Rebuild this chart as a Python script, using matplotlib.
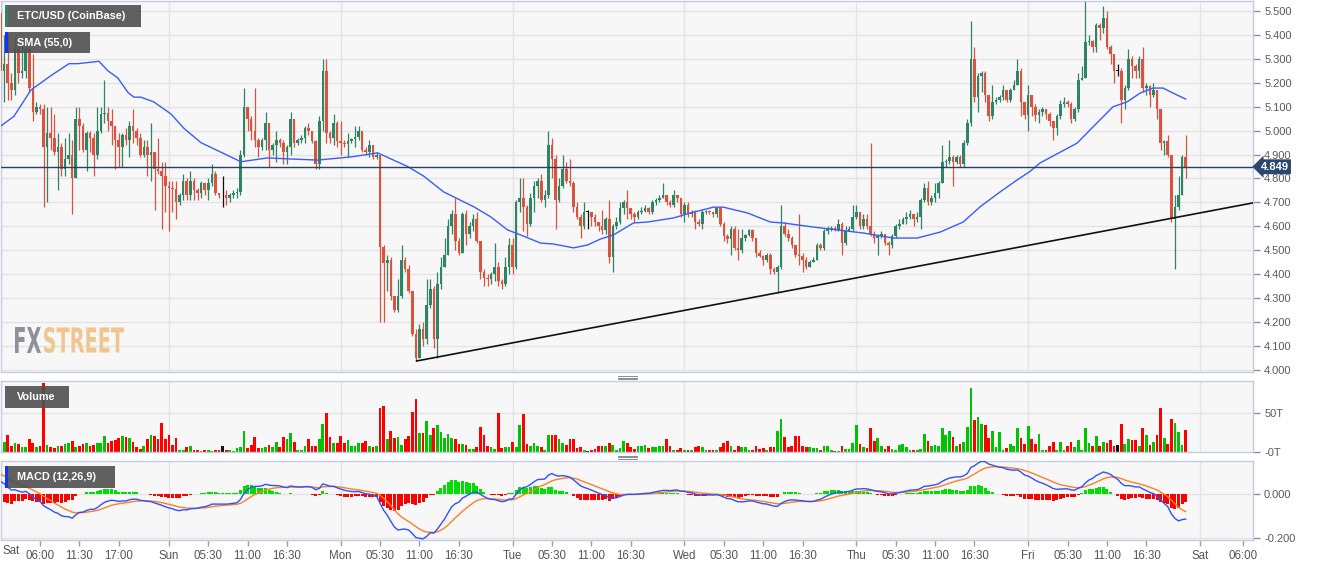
import numpy as np
import matplotlib
matplotlib.use("Agg")
import matplotlib.pyplot as plt
from matplotlib.patches import Rectangle, PathPatch
from matplotlib.lines import Line2D
from matplotlib.textpath import TextPath
from matplotlib.font_manager import FontProperties
from matplotlib.transforms import Affine2D, IdentityTransform, blended_transform_factory

plt.rcParams['font.family'] = ['Liberation Sans', 'DejaVu Sans']

# ETC/USD 30-minute candles, Sat 00:30 .. Fri 22:00 (hours from Sat 00:00)
first_open = 5.49
closes = [
    5.25, 5.28, 5.20, 5.17, 5.34, 5.24, 5.25, 5.34, 5.18, 5.08,
    5.10, 5.09, 4.93, 4.99, 4.97, 4.91, 4.93, 4.84, 4.88, 4.90,
    4.80, 5.05, 5.02, 4.92, 4.99, 4.97, 4.90, 5.00, 5.07, 5.075,
    5.04, 5.02, 4.96, 4.93, 4.98, 4.96, 5.02, 5.00, 4.97, 4.90,
    4.93, 4.90, 4.91, 4.84, 4.83, 4.81, 4.77, 4.76, 4.755, 4.70,
    4.73, 4.79, 4.73, 4.79, 4.75, 4.74, 4.78, 4.75, 4.78, 4.82,
    4.74, 4.73, 4.73, 4.72, 4.73, 4.74, 4.745, 4.90, 5.10, 5.05,
    5.00, 4.96, 4.93, 4.96, 5.03, 4.92, 4.94, 4.96, 4.95, 4.91,
    4.93, 5.05, 4.95, 4.96, 4.97, 5.01, 5.00, 4.955, 4.86, 5.04,
    5.25, 4.99, 4.97, 5.03, 4.955, 4.95, 4.945, 4.955, 4.965, 4.975,
    5.00, 4.92, 4.91, 4.94, 4.89, 4.90, 4.515, 4.445, 4.46, 4.31,
    4.25, 4.31, 4.46, 4.42, 4.33, 4.15, 4.05, 4.17, 4.13, 4.27,
    4.34, 4.13, 4.36, 4.43, 4.48, 4.60, 4.65, 4.54, 4.49, 4.65,
    4.57, 4.60, 4.63, 4.54, 4.41, 4.385, 4.38, 4.40, 4.43, 4.37,
    4.36, 4.43, 4.52, 4.43, 4.70, 4.72, 4.68, 4.61, 4.72, 4.77,
    4.79, 4.71, 4.73, 4.94, 4.88, 4.71, 4.77, 4.84, 4.79, 4.78,
    4.68, 4.64, 4.60, 4.66, 4.66, 4.64, 4.62, 4.60, 4.585, 4.63,
    4.47, 4.60, 4.62, 4.675, 4.70, 4.675, 4.65, 4.64, 4.66, 4.665,
    4.675, 4.66, 4.70, 4.71, 4.72, 4.73, 4.70, 4.69, 4.73, 4.72,
    4.65, 4.69, 4.65, 4.66, 4.62, 4.61, 4.66, 4.665, 4.66, 4.65,
    4.675, 4.61, 4.56, 4.545, 4.59, 4.51, 4.50, 4.55, 4.565, 4.585,
    4.55, 4.49, 4.475, 4.46, 4.48, 4.42, 4.41, 4.43, 4.60, 4.57,
    4.55, 4.52, 4.48, 4.475, 4.46, 4.43, 4.45, 4.46, 4.52, 4.51,
    4.58, 4.59, 4.595, 4.585, 4.61, 4.53, 4.58, 4.59, 4.64, 4.66,
    4.60, 4.63, 4.60, 4.57, 4.55, 4.56, 4.57, 4.53, 4.52, 4.56,
    4.60, 4.61, 4.63, 4.64, 4.65, 4.63, 4.64, 4.71, 4.76, 4.70,
    4.72, 4.74, 4.78, 4.87, 4.875, 4.89, 4.87, 4.89, 4.86, 4.95,
    5.03, 5.30, 5.14, 5.23, 5.24, 5.15, 5.06, 5.12, 5.13, 5.14,
    5.17, 5.13, 5.17, 5.19, 5.25, 5.12, 5.065, 5.15, 5.10, 5.065,
    5.08, 5.09, 5.07, 5.04, 5.01, 5.06, 5.11, 5.12, 5.11, 5.05,
    5.09, 5.21, 5.22, 5.37, 5.375, 5.35, 5.44, 5.43, 5.47, 5.35,
    5.32, 5.25, 5.25, 5.13, 5.18, 5.30, 5.27, 5.25, 5.30, 5.18,
    5.185, 5.15, 5.17, 5.09, 4.95, 4.955, 4.90, 4.63, 4.68, 4.73,
    4.89, 4.849,
]
highs = [
    5.55, 5.40, 5.41, 5.24, 5.39, 5.36, 5.37, 5.36, 5.35, 5.32,
    5.12, 5.11, 5.11, 5.10, 5.10, 5.07, 4.99, 4.95, 4.97, 4.99,
    4.96, 5.10, 5.10, 5.03, 5.00, 5.00, 4.99, 5.10, 5.10, 5.21,
    5.10, 5.09, 5.02, 4.99, 4.99, 5.01, 5.04, 5.09, 5.01, 4.99,
    4.96, 4.96, 5.03, 4.91, 4.97, 4.87, 4.87, 4.79, 4.79, 4.79,
    4.74, 4.82, 4.80, 4.83, 4.80, 4.76, 4.79, 4.78, 4.80, 4.86,
    4.83, 4.74, 4.81, 4.75, 4.74, 4.75, 4.76, 4.92, 5.18, 5.10,
    5.06, 5.18, 4.97, 4.97, 5.08, 5.03, 4.95, 5.00, 4.97, 4.96,
    4.94, 5.08, 5.05, 4.97, 4.98, 5.02, 5.03, 5.00, 4.96, 5.06,
    5.30, 5.30, 5.00, 5.07, 5.04, 5.04, 4.96, 4.99, 4.97, 5.02,
    5.02, 5.00, 4.93, 4.96, 4.92, 4.91, 4.90, 4.52, 4.48, 4.47,
    4.31, 4.38, 4.52, 4.47, 4.44, 4.33, 4.17, 4.19, 4.20, 4.38,
    4.38, 4.35, 4.41, 4.47, 4.55, 4.63, 4.67, 4.72, 4.55, 4.66,
    4.67, 4.62, 4.65, 4.66, 4.54, 4.42, 4.40, 4.41, 4.53, 4.45,
    4.38, 4.47, 4.55, 4.55, 4.71, 4.80, 4.80, 4.69, 4.74, 4.79,
    4.80, 4.82, 4.75, 5.00, 4.97, 4.90, 4.80, 4.90, 4.87, 4.88,
    4.79, 4.70, 4.65, 4.70, 4.67, 4.66, 4.65, 4.62, 4.67, 4.64,
    4.71, 4.61, 4.64, 4.70, 4.71, 4.75, 4.67, 4.66, 4.67, 4.68,
    4.69, 4.68, 4.71, 4.72, 4.73, 4.78, 4.73, 4.71, 4.75, 4.73,
    4.72, 4.70, 4.70, 4.67, 4.67, 4.63, 4.67, 4.67, 4.67, 4.66,
    4.68, 4.68, 4.62, 4.57, 4.60, 4.60, 4.59, 4.59, 4.57, 4.59,
    4.59, 4.55, 4.50, 4.48, 4.49, 4.49, 4.43, 4.44, 4.69, 4.62,
    4.59, 4.56, 4.52, 4.65, 4.49, 4.47, 4.46, 4.47, 4.53, 4.53,
    4.59, 4.60, 4.60, 4.60, 4.63, 4.62, 4.60, 4.60, 4.69, 4.69,
    4.66, 4.65, 4.65, 4.95, 4.58, 4.57, 4.58, 4.57, 4.54, 4.57,
    4.61, 4.63, 4.64, 4.66, 4.67, 4.65, 4.66, 4.72, 4.78, 4.79,
    4.73, 4.78, 4.79, 4.94, 4.88, 4.96, 4.90, 4.90, 4.90, 4.96,
    5.05, 5.46, 5.35, 5.24, 5.25, 5.25, 5.15, 5.19, 5.14, 5.15,
    5.19, 5.17, 5.18, 5.21, 5.30, 5.26, 5.12, 5.19, 5.15, 5.11,
    5.09, 5.10, 5.09, 5.08, 5.04, 5.07, 5.13, 5.14, 5.13, 5.12,
    5.10, 5.24, 5.27, 5.54, 5.40, 5.38, 5.45, 5.45, 5.52, 5.50,
    5.36, 5.32, 5.28, 5.26, 5.19, 5.34, 5.31, 5.28, 5.31, 5.35,
    5.20, 5.19, 5.20, 5.17, 5.09, 4.96, 4.98, 4.90, 4.73, 4.81,
    4.90, 4.98,
]
lows = [
    5.13, 5.12, 5.13, 5.13, 5.15, 5.20, 5.22, 5.22, 5.16, 5.04,
    5.07, 5.07, 4.68, 4.70, 4.92, 4.90, 4.75, 4.81, 4.81, 4.86,
    4.65, 4.80, 4.92, 4.91, 4.83, 4.91, 4.81, 4.88, 4.99, 5.03,
    5.00, 4.94, 4.84, 4.85, 4.85, 4.94, 4.89, 4.95, 4.94, 4.89,
    4.89, 4.81, 4.79, 4.67, 4.82, 4.59, 4.66, 4.58, 4.66, 4.63,
    4.69, 4.71, 4.71, 4.71, 4.71, 4.71, 4.72, 4.73, 4.71, 4.77,
    4.73, 4.72, 4.68, 4.69, 4.70, 4.72, 4.72, 4.73, 4.89, 5.00,
    4.96, 4.93, 4.89, 4.92, 4.92, 4.85, 4.90, 4.87, 4.93, 4.86,
    4.86, 4.90, 4.93, 4.94, 4.95, 4.95, 4.98, 4.95, 4.84, 4.84,
    5.00, 4.95, 4.95, 4.94, 4.93, 4.90, 4.93, 4.89, 4.95, 4.93,
    4.96, 4.91, 4.90, 4.89, 4.88, 4.88, 4.20, 4.20, 4.33, 4.29,
    4.24, 4.24, 4.30, 4.41, 4.32, 4.14, 4.035, 4.05, 4.10, 4.11,
    4.26, 4.09, 4.05, 4.34, 4.43, 4.48, 4.57, 4.50, 4.48, 4.49,
    4.52, 4.55, 4.58, 4.53, 4.38, 4.35, 4.35, 4.36, 4.37, 4.35,
    4.34, 4.35, 4.40, 4.40, 4.42, 4.66, 4.58, 4.56, 4.60, 4.66,
    4.72, 4.70, 4.68, 4.72, 4.80, 4.59, 4.70, 4.76, 4.78, 4.77,
    4.66, 4.63, 4.55, 4.59, 4.59, 4.60, 4.60, 4.58, 4.57, 4.57,
    4.445, 4.41, 4.59, 4.61, 4.65, 4.63, 4.63, 4.62, 4.63, 4.65,
    4.66, 4.65, 4.65, 4.69, 4.70, 4.72, 4.69, 4.68, 4.68, 4.70,
    4.64, 4.62, 4.64, 4.64, 4.59, 4.60, 4.59, 4.65, 4.65, 4.64,
    4.64, 4.60, 4.54, 4.53, 4.48, 4.50, 4.46, 4.49, 4.54, 4.56,
    4.54, 4.47, 4.47, 4.44, 4.45, 4.40, 4.40, 4.32, 4.42, 4.56,
    4.54, 4.51, 4.47, 4.44, 4.41, 4.42, 4.43, 4.45, 4.46, 4.50,
    4.50, 4.57, 4.58, 4.58, 4.58, 4.48, 4.52, 4.58, 4.58, 4.63,
    4.59, 4.59, 4.59, 4.56, 4.53, 4.48, 4.55, 4.52, 4.48, 4.51,
    4.55, 4.59, 4.61, 4.61, 4.63, 4.60, 4.62, 4.59, 4.70, 4.69,
    4.69, 4.70, 4.72, 4.78, 4.85, 4.86, 4.77, 4.86, 4.85, 4.85,
    4.94, 5.02, 5.12, 5.08, 5.16, 5.12, 5.04, 5.05, 5.11, 5.12,
    5.13, 5.12, 5.12, 5.17, 5.19, 5.06, 5.05, 5.00, 5.06, 5.04,
    5.03, 5.06, 5.05, 5.02, 4.96, 4.98, 5.05, 5.10, 5.10, 5.03,
    5.04, 5.08, 5.21, 5.22, 5.36, 5.33, 5.33, 5.38, 5.41, 5.34,
    5.28, 5.20, 5.23, 5.03, 5.09, 5.17, 5.22, 5.22, 5.22, 5.16,
    5.15, 5.10, 5.14, 5.05, 4.92, 4.90, 4.89, 4.62, 4.42, 4.67,
    4.74, 4.80,
]
# volume in T
volumes = [
    36, 13, 22, 8, 12, 10, 6, 6, 17, 11,
    6, 8, 88, 9, 6, 5, 8, 8, 10, 11,
    14, 6, 8, 10, 11, 8, 9, 11, 11, 20,
    11, 14, 15, 18, 20, 19, 18, 13, 6, 4,
    8, 16, 21, 20, 16, 37, 16, 22, 9, 18,
    3, 3, 6, 8, 3, 3, 1, 2, 3, 1,
    2, 3, 8, 3, 2, 1, 5, 6, 26, 5,
    9, 19, 5, 5, 6, 9, 6, 13, 6, 19,
    17, 24, 13, 3, 3, 8, 17, 8, 8, 16,
    35, 50, 19, 11, 11, 20, 11, 15, 8, 7,
    12, 11, 14, 8, 6, 7, 56, 58, 17, 26,
    18, 19, 9, 17, 20, 51, 67, 24, 24, 39,
    21, 30, 34, 25, 18, 23, 18, 16, 10, 10,
    9, 4, 4, 6, 32, 21, 8, 6, 4, 49,
    5, 6, 6, 13, 6, 34, 48, 10, 8, 12,
    8, 6, 3, 22, 21, 22, 17, 11, 9, 17,
    17, 5, 6, 3, 1, 3, 4, 7, 8, 8,
    11, 9, 2, 5, 14, 11, 6, 4, 8, 8,
    9, 5, 6, 6, 8, 8, 17, 8, 3, 3,
    5, 3, 3, 3, 6, 7, 6, 3, 2, 2,
    2, 6, 11, 14, 8, 2, 7, 6, 6, 3,
    3, 7, 4, 5, 3, 6, 6, 26, 42, 19,
    6, 7, 20, 20, 8, 6, 6, 5, 5, 2,
    8, 8, 2, 1, 1, 7, 4, 4, 11, 34,
    10, 6, 5, 30, 14, 18, 8, 4, 8, 4,
    3, 9, 10, 6, 2, 2, 3, 4, 23, 14,
    8, 9, 7, 30, 21, 26, 19, 8, 10, 13,
    32, 81, 40, 44, 36, 34, 18, 27, 6, 25,
    3, 5, 10, 7, 30, 18, 10, 33, 16, 10,
    23, 3, 3, 8, 13, 3, 13, 3, 8, 13,
    6, 15, 3, 30, 11, 8, 20, 8, 13, 11,
    15, 8, 9, 36, 10, 17, 15, 15, 8, 31,
    22, 9, 13, 22, 56, 18, 10, 42, 37, 25,
    9, 28,
]

# SMA(55): (hours, price)
sma_hours = [0.56, 2.37, 4.74, 6.14, 7.53, 10.05, 11.3, 14.23, 15.49, 16.88,
             18.28, 19.12, 20.09, 21.9, 24.28, 26.09, 28.47, 31.26, 34.05, 37.81,
             40.6, 44.79, 49.4, 53.16, 57.35, 59.58, 62.37, 66.56, 68.93, 71.3,
             73.12, 75.91, 77.72, 80.51, 82.47, 84.28, 86.09, 88.88, 90.84, 94.47,
             96.84, 100.05, 101.44, 104.79, 108.0, 109.81, 114.0, 117.35, 120.98, 125.16,
             128.51, 131.72, 134.93, 137.3, 140.09, 142.47, 144.28, 145.67, 150.84, 153.07,
             155.86, 157.81, 159.63, 161.44, 162.84, 164.23, 166.0]
sma_values = [5.02, 5.06, 5.17, 5.20, 5.23, 5.28, 5.28, 5.29, 5.25, 5.22,
              5.16, 5.14, 5.14, 5.12, 5.07, 5.01, 4.95, 4.91, 4.87, 4.886,
              4.882, 4.877, 4.89, 4.907, 4.85, 4.81, 4.744, 4.682, 4.64, 4.585,
              4.564, 4.53, 4.526, 4.51, 4.522, 4.547, 4.564, 4.614, 4.618, 4.635,
              4.656, 4.68, 4.68, 4.656, 4.618, 4.614, 4.597, 4.585, 4.572, 4.551,
              4.551, 4.576, 4.618, 4.682, 4.744, 4.794, 4.83, 4.865, 4.948, 5.016,
              5.10, 5.12, 5.157, 5.178, 5.178, 5.157, 5.132]

# MACD state at the left edge
ema26_seed = 5.30
macd_seed = 0.073
signal_seed = 0.10

trend_hours = [58.6, 175.4]
trend_prices = [4.037, 4.698]
last_price = 4.849

tick_hours = [6, 11.5, 17, 24, 29.5, 35, 40.5, 48, 53.5, 59, 64.5, 72, 77.5, 83, 88.5,
              96, 101.5, 107, 112.5, 120, 125.5, 131, 136.5, 144, 149.5, 155, 160.5, 168, 174]
tick_labels = ['06:00', '11:30', '17:00', 'Sun', '05:30', '11:00', '16:30', 'Mon', '05:30',
               '11:00', '16:30', 'Tue', '05:30', '11:00', '16:30', 'Wed', '05:30', '11:00',
               '16:30', 'Thu', '05:30', '11:00', '16:30', 'Fri', '05:30', '11:00', '16:30',
               'Sat', '06:00']
day_hours = [24, 48, 72, 96, 120, 144, 168]

# ---- derived series
n = len(closes)
t = 0.5 * np.arange(1, n + 1)
c = np.array(closes)
o = np.concatenate([[first_open], c[:-1]])
h = np.maximum(np.array(highs), np.maximum(o, c))
l = np.minimum(np.array(lows), np.minimum(o, c))

GREEN, RED = '#2f8466', '#d9533f'
cc = np.where(c > o, GREEN, np.where(c < o, RED, '#111111'))
vc = np.where(c > o, '#00c400', np.where(c < o, '#ff0000', '#111111'))


def ema(values, span, seed):
    a = 2.0 / (span + 1)
    out, e = [], seed
    for v in values:
        e = e + a * (v - e)
        out.append(e)
    return np.array(out)


macd = ema(c, 12, ema26_seed + macd_seed) - ema(c, 26, ema26_seed)
signal = ema(macd, 9, signal_seed)
hist = macd - signal

# ---- figure
W, H = 1331, 566
fig = plt.figure(figsize=(W / 100, H / 100), dpi=100)
fig.patch.set_facecolor('white')


def axes_px(top, bottom):
    return fig.add_axes([1 / W, (H - bottom) / H, 1252 / W, (bottom - top) / H])


ax = axes_px(1, 372)
axv = axes_px(381, 452)
axm = axes_px(461, 540)

XL = (0.558, 175.4)
GRID = '#e4e4e4'
SPINE = '#c5cbe0'
for a in (ax, axv, axm):
    a.set_facecolor('#f7f7f7')
    a.set_xlim(*XL)
    for s in a.spines.values():
        s.set_color(SPINE)
        s.set_linewidth(1)
    a.yaxis.tick_right()
    a.tick_params(axis='y', direction='out', length=5, width=1, color='#8a90a8',
                  labelcolor='#5a5a5a', labelsize=8, pad=3)
    for d in day_hours:
        a.axvline(d, color=GRID, lw=1, zorder=0)

# main price panel
ax.set_ylim(3.991, 5.542)
yt = np.round(np.arange(4.0, 5.501, 0.1), 3)
ax.set_yticks(yt)
ax.set_yticklabels([f'{v:.3f}' for v in yt])
for v in yt:
    ax.axhline(v, color=GRID, lw=1, zorder=0)
ax.set_xticks([])

ax.vlines(t, l, h, color=cc, lw=0.9, zorder=2)
body_lo = np.minimum(o, c)
body_h = np.maximum(np.abs(c - o), 0.003)
ax.bar(t, body_h, bottom=body_lo, width=0.36, color=cc, zorder=3, linewidth=0)

ax.plot(sma_hours, sma_values, color='#3a5cff', lw=1, zorder=4)
ax.plot(trend_hours, trend_prices, color='#111111', lw=1.2, zorder=4)
ax.axhline(last_price, color='#26406a', lw=1, zorder=4)
ax.text(1.006, last_price, f'{last_price:.3f}',
        transform=blended_transform_factory(ax.transAxes, ax.transData),
        ha='left', va='center', color='white', fontsize=8, fontweight='bold', zorder=6, clip_on=False,
        bbox=dict(boxstyle='larrow,pad=0.22', fc='#2b4670', ec='none'))

# volume panel
axv.set_ylim(0, 90)
axv.set_yticks([0, 50])
axv.set_yticklabels(['-0T', '50T'])
axv.axhline(50, color=GRID, lw=1, zorder=0)
axv.set_xticks([])
axv.bar(t, volumes, width=0.38, color=vc, linewidth=0, zorder=2)

# MACD panel
axm.set_ylim(-0.209, 0.151)
axm.set_yticks([-0.2, 0.0])
axm.set_yticklabels(['-0.200', '0.000'])
axm.axhline(-0.2, color=GRID, lw=1, zorder=0)
axm.axhline(0.0, color=GRID, lw=1, zorder=0)
hc = np.where(hist >= 0, '#00dd00', '#ff0000')
axm.bar(t, hist, width=0.42, color=hc, linewidth=0, zorder=2)
axm.plot(t, signal, color='#ff7f27', lw=1, zorder=3)
axm.plot(t, macd, color='#3050ff', lw=1, zorder=4)
axm.set_xticks(tick_hours)
axm.set_xticklabels(tick_labels)
axm.tick_params(axis='x', direction='out', length=4, width=1, color='#9aa0b5',
                labelcolor='#555555', labelsize=8.3, pad=3)
axm.text(0.0015, -0.14, 'Sat', transform=axm.transAxes, ha='left', va='center',
         fontsize=8.3, color='#555555')


# ---- overlays in pixel space
def rect_px(x0, y0, x1, y1, color, alpha=1.0):
    fig.add_artist(Rectangle((x0 / W, 1 - y1 / H), (x1 - x0) / W, (y1 - y0) / H,
                             transform=fig.transFigure, fc=color, ec='none', alpha=alpha, zorder=10))


def label_px(x0, y0, x1, y1, text, strip=None):
    rect_px(x0, y0, x1, y1, '#4f4f4f', 0.9)
    if strip:
        rect_px(x0, y0, x0 + 2.5, y1, strip)
    fig.text((x0 + 12) / W, 1 - (y0 + y1) / 2 / H, text, color='white', fontsize=7.8,
             fontweight='bold', va='center', ha='left', zorder=11)


label_px(5, 5, 141, 27, 'ETC/USD (CoinBase)', strip='#2f8466')
label_px(5, 32, 90, 53, 'SMA (55,0)', strip='#1133ff')
label_px(5, 386, 69, 408, 'Volume')
label_px(5, 466, 115, 488, 'MACD (12,26,9)', strip='#1133ff')

# panel resize handles
for yy in (376, 377.6, 379.2, 455.6, 457.2, 458.8):
    fig.add_artist(Line2D([618 / W, 637 / W], [1 - yy / H, 1 - yy / H], color='#8c8c8c',
                          lw=0.7, transform=fig.transFigure, zorder=10))


# FXSTREET watermark (condensed by scaling a text path)
def stamp(text, x0, x1, ytop, ybot, color):
    tp = TextPath((0, 0), text, size=20, prop=FontProperties(family='DejaVu Sans', weight='bold'))
    ext = tp.get_extents()
    tr = (Affine2D().translate(-ext.x0, -ext.y0)
          .scale((x1 - x0) / ext.width, (ybot - ytop) / ext.height)
          .translate(x0, H - ybot))
    fig.add_artist(PathPatch(tr.transform_path(tp), fc=color, ec='none',
                             transform=IdentityTransform(), zorder=1))


stamp('FX', 15, 41, 327, 353, '#8f9098')
stamp('STREET', 44, 124, 327, 353, '#f1c68e')

fig.savefig('out.png', dpi=100, facecolor='white')
